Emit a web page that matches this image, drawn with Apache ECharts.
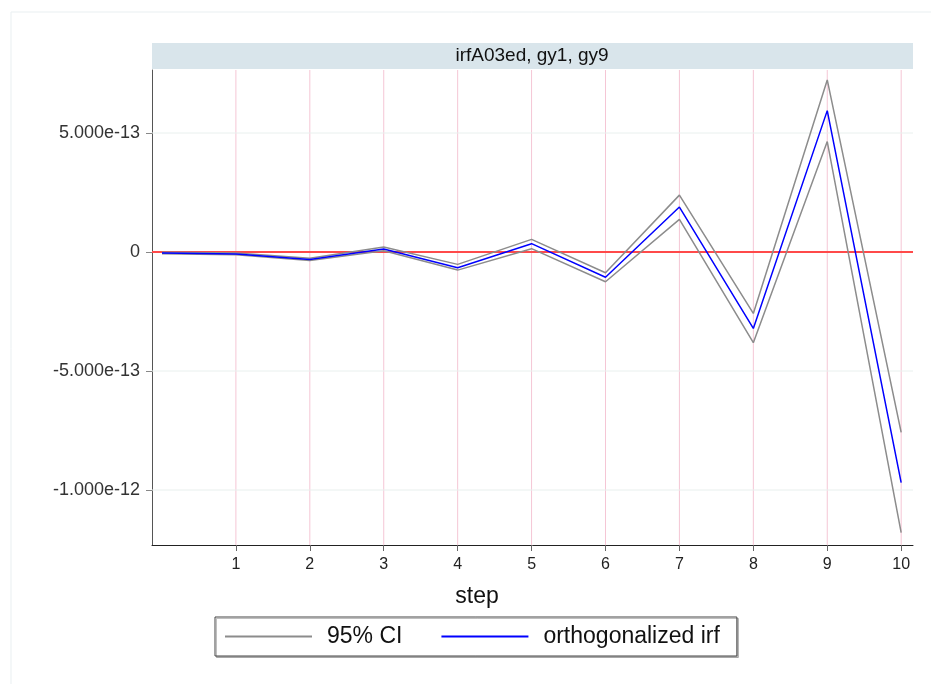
<!DOCTYPE html>
<html>
<head>
<meta charset="utf-8">
<script src="https://cdn.jsdelivr.net/npm/echarts@6/dist/echarts.min.js"></script>
<style>
html,body{margin:0;padding:0;background:#fff;}
#chart{width:931px;height:684px;}
</style>
</head>
<body>
<div id="chart"></div>
<script>
// ---- data ----
var steps = [0, 1, 2, 3, 4, 5, 6, 7, 8, 9, 10];
var irf = [-0.004e-12, -0.008e-12, -0.031e-12, 0.013e-12, -0.066e-12, 0.035e-12, -0.106e-12, 0.189e-12, -0.321e-12, 0.594e-12, -0.969e-12];
var ciUpper = [-0.001e-12, -0.004e-12, -0.026e-12, 0.021e-12, -0.052e-12, 0.053e-12, -0.087e-12, 0.239e-12, -0.258e-12, 0.723e-12, -0.758e-12];
var ciLower = [-0.007e-12, -0.012e-12, -0.036e-12, 0.005e-12, -0.076e-12, 0.014e-12, -0.125e-12, 0.137e-12, -0.381e-12, 0.464e-12, -1.179e-12];
var xTicks = [1, 2, 3, 4, 5, 6, 7, 8, 9, 10];
var yTicks = [-1e-12, -5e-13, 0, 5e-13];
var xRange = [-0.135, 10.16];
var yRange = [-1.231e-12, 7.647e-13];
var panelTitle = 'irfA03ed, gy1, gy9';
var xTitle = 'step';
var ciName = '95% CI';
var irfName = 'orthogonalized irf';

function pairs(ys) { return steps.map(function (s, i) { return [s, ys[i]]; }); }

var chart = echarts.init(document.getElementById('chart'), null, {renderer: 'canvas'});
var FONT = 'Arial, "Liberation Sans", sans-serif';

var gridSeries = [];
xTicks.forEach(function (v) {
  gridSeries.push({
    type: 'line', data: [[v, yRange[0]], [v, yRange[1]]], silent: true, z: 1,
    showSymbol: false, symbol: 'none', legendHoverLink: false,
    lineStyle: {color: '#f5c6d5', width: 1}, itemStyle: {color: '#f5c6d5'}
  });
});
yTicks.filter(function (v) { return v !== 0; }).forEach(function (v) {
  gridSeries.push({
    type: 'line', data: [[xRange[0], v], [xRange[1], v]], silent: true, z: 1,
    showSymbol: false, symbol: 'none',
    lineStyle: {color: '#e9f0ee', width: 1}, itemStyle: {color: '#e9f0ee'}
  });
});

var option = {
  backgroundColor: '#ffffff',
  animation: false,
  grid: {left: 152, top: 70, right: 18, bottom: 139, containLabel: false},
  xAxis: {
    type: 'value',
    min: xRange[0],
    max: xRange[1],
    axisLine: {show: true, onZero: false, lineStyle: {color: '#222', width: 1}},
    axisTick: {show: true, customValues: xTicks, length: 6, lineStyle: {color: '#666'}},
    axisLabel: {customValues: xTicks, margin: 12, fontSize: 16, color: '#222', fontFamily: FONT},
    splitLine: {show: false}
  },
  yAxis: {
    type: 'value',
    min: yRange[0],
    max: yRange[1],
    axisLine: {show: true, onZero: false, lineStyle: {color: '#555', width: 1}},
    axisTick: {show: true, customValues: yTicks, length: 6, lineStyle: {color: '#888'}},
    axisLabel: {
      customValues: yTicks, margin: 12, fontSize: 18, color: '#333', fontFamily: FONT,
      formatter: function (v) { return v === 0 ? '0' : Number(v).toExponential(3); }
    },
    splitLine: {show: false}
  },
  legend: {
    left: 215, top: 617,
    data: [ciName, irfName],
    icon: 'rect',
    itemWidth: 87, itemHeight: 2,
    itemGap: 39,
    padding: [8, 17, 8, 10],
    borderColor: '#444', borderWidth: 1,
    backgroundColor: '#fff',
    shadowColor: 'rgba(0,0,0,0.25)', shadowBlur: 0, shadowOffsetX: 1.5, shadowOffsetY: 1.5,
    textStyle: {fontSize: 23, color: '#111', fontFamily: FONT, padding: [0, 0, 0, 10]}
  },
  graphic: [
    {type: 'rect', shape: {x: 11, y: 12, width: 1000, height: 1000}, style: {fill: 'none', stroke: '#e9eff1', lineWidth: 1}, z: -10, silent: true},
    {type: 'rect', shape: {x: 152, y: 43, width: 761, height: 26}, style: {fill: '#d9e5eb'}, silent: true},
    {type: 'text', x: 532, y: 56, style: {text: panelTitle, font: '19px Arial, "Liberation Sans", sans-serif', fill: '#111', align: 'center', verticalAlign: 'middle'}, silent: true},
    {type: 'text', x: 477, y: 597, style: {text: xTitle, font: '23px Arial, "Liberation Sans", sans-serif', fill: '#111', align: 'center', verticalAlign: 'middle'}, silent: true}
  ],
  series: gridSeries.concat([
    {
      name: 'zero', type: 'line', data: [[xRange[0], 0], [xRange[1], 0]], silent: true, z: 2,
      showSymbol: false, symbol: 'none',
      lineStyle: {color: '#ff4a4a', width: 2}, itemStyle: {color: '#ff4a4a'}
    },
    {name: ciName, type: 'line', data: pairs(ciUpper), showSymbol: false, symbol: 'none', z: 3,
      lineStyle: {color: '#8c8c8c', width: 1.5}, itemStyle: {color: '#8c8c8c'}},
    {name: ciName, type: 'line', data: pairs(ciLower), showSymbol: false, symbol: 'none', z: 3,
      lineStyle: {color: '#8c8c8c', width: 1.5}, itemStyle: {color: '#8c8c8c'}},
    {name: irfName, type: 'line', data: pairs(irf), showSymbol: false, symbol: 'none', z: 4,
      lineStyle: {color: '#0000ff', width: 1.5}, itemStyle: {color: '#0000ff'}}
  ])
};
chart.setOption(option);
</script>
</body>
</html>
